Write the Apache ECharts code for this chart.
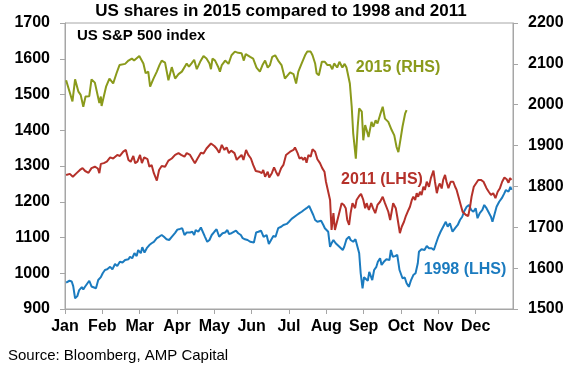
<!DOCTYPE html>
<html>
<head>
<meta charset="utf-8">
<script src="https://cdn.jsdelivr.net/npm/echarts@6/dist/echarts.min.js"></script>
<style>
  html, body { margin: 0; padding: 0; background: #fff; }
  #chart { width: 580px; height: 371px; }
</style>
</head>
<body>
<div id="chart"></div>
<script>
// x positions are months since 1 Jan (0 = Jan, 12 = end of Dec)
var months = ['Jan', 'Feb', 'Mar', 'Apr', 'May', 'Jun', 'Jul', 'Aug', 'Sep', 'Oct', 'Nov', 'Dec'];

// 2015 - right hand scale
var t2015 = [0.03, 0.20, 0.27, 0.36, 0.42, 0.49, 0.55, 0.65, 0.71, 0.80, 0.92, 0.96, 0.98, 1.10, 1.19, 1.29, 1.38, 1.46, 1.61, 1.70,
  1.79, 1.85, 1.99, 2.10, 2.16, 2.23, 2.28, 2.37, 2.46, 2.53, 2.59, 2.68, 2.77, 2.86, 2.95, 3.04, 3.13, 3.26, 3.32, 3.39,
  3.46, 3.53, 3.62, 3.71, 3.79, 3.87, 3.91, 3.95, 4.02, 4.11, 4.15, 4.20, 4.29, 4.38, 4.46, 4.55, 4.64, 4.73, 4.79, 4.84,
  4.96, 5.04, 5.13, 5.22, 5.29, 5.36, 5.43, 5.49, 5.55, 5.63, 5.71, 5.80, 5.89, 5.94, 6.03, 6.12, 6.19, 6.25, 6.34, 6.43,
  6.49, 6.58, 6.63, 6.70, 6.74, 6.80, 6.88, 6.96, 7.03, 7.10, 7.16, 7.21, 7.29, 7.35, 7.43, 7.49, 7.54, 7.59, 7.63, 7.68,
  7.72, 7.79, 7.84, 7.88, 7.95, 7.99, 8.04, 8.08, 8.13, 8.17, 8.21, 8.26, 8.32, 8.37, 8.44, 8.51, 8.57, 8.66, 8.75, 8.82,
  8.88, 8.93, 8.99, 9.04, 9.11, 9.15];
var v2015 = [2060, 2008, 2062, 2032, 2024, 1995, 2020, 2021, 2062, 2054, 2004, 2020, 1997, 2044, 2064, 2052, 2077, 2097, 2100, 2108,
  2113, 2108, 2119, 2101, 2077, 2081, 2044, 2064, 2081, 2097, 2108, 2103, 2060, 2092, 2064, 2075, 2081, 2101, 2093, 2101,
  2110, 2087, 2105, 2119, 2113, 2101, 2087, 2113, 2108, 2091, 2081, 2097, 2108, 2100, 2121, 2130, 2127, 2126, 2108, 2124,
  2117, 2113, 2091, 2081, 2097, 2108, 2091, 2097, 2117, 2121, 2108, 2097, 2064, 2060, 2079, 2075, 2052, 2081, 2101, 2121,
  2130, 2130, 2121, 2101, 2077, 2072, 2105, 2105, 2097, 2097, 2087, 2101, 2091, 2105, 2091, 2100, 2091, 2093, 2052, 1995,
  1930, 1868, 1946, 1991, 1983, 1913, 1950, 1938, 1921, 1917, 1958, 1946, 1962, 1954, 1975, 1995, 1966, 1958, 1938, 1925,
  1897, 1884, 1917, 1946, 1978, 1987];

// 2011 - left hand scale
var t2011 = [0.03, 0.13, 0.21, 0.31, 0.40, 0.47, 0.54, 0.63, 0.71, 0.80, 0.88, 0.92, 0.96, 1.04, 1.12, 1.21, 1.29, 1.40, 1.47, 1.56,
  1.63, 1.70, 1.76, 1.83, 1.88, 1.94, 2.01, 2.06, 2.12, 2.21, 2.26, 2.32, 2.38, 2.46, 2.52, 2.59, 2.68, 2.77, 2.86, 2.95,
  3.04, 3.11, 3.20, 3.26, 3.35, 3.44, 3.48, 3.55, 3.64, 3.71, 3.79, 3.91, 4.00, 4.06, 4.13, 4.20, 4.27, 4.33, 4.39, 4.45,
  4.54, 4.60, 4.66, 4.73, 4.78, 4.85, 4.91, 4.98, 5.04, 5.11, 5.20, 5.27, 5.31, 5.36, 5.43, 5.47, 5.54, 5.60, 5.65, 5.71,
  5.79, 5.85, 5.92, 6.03, 6.12, 6.16, 6.23, 6.28, 6.34, 6.38, 6.43, 6.47, 6.52, 6.58, 6.63, 6.70, 6.76, 6.83, 6.89, 6.95,
  6.99, 7.04, 7.10, 7.14, 7.19, 7.23, 7.28, 7.32, 7.36, 7.41, 7.47, 7.52, 7.56, 7.61, 7.65, 7.70, 7.77, 7.81, 7.88, 7.93,
  7.99, 8.04, 8.08, 8.14, 8.20, 8.25, 8.31, 8.37, 8.44, 8.51, 8.57, 8.66, 8.71, 8.75, 8.79, 8.86, 8.90, 8.97, 9.02, 9.08,
  9.13, 9.20, 9.24, 9.29, 9.33, 9.38, 9.42, 9.46, 9.51, 9.55, 9.60, 9.64, 9.69, 9.75, 9.80, 9.87, 9.91, 9.96, 10.00, 10.04,
  10.09, 10.13, 10.18, 10.22, 10.27, 10.33, 10.40, 10.45, 10.49, 10.54, 10.60, 10.65, 10.70, 10.74, 10.80, 10.85, 10.89, 10.95, 11.00, 11.07,
  11.14, 11.21, 11.25, 11.29, 11.35, 11.41, 11.47, 11.53, 11.59, 11.65, 11.71, 11.77, 11.83, 11.88, 11.92, 11.96];
var v2011 = [1275, 1278, 1270, 1280, 1289, 1294, 1286, 1281, 1294, 1298, 1293, 1280, 1306, 1308, 1312, 1324, 1321, 1331, 1328, 1340,
  1345, 1317, 1312, 1328, 1308, 1312, 1331, 1308, 1324, 1319, 1298, 1303, 1280, 1259, 1289, 1300, 1298, 1315, 1321, 1331,
  1336, 1331, 1326, 1336, 1331, 1315, 1308, 1321, 1337, 1335, 1349, 1363, 1356, 1349, 1337, 1359, 1345, 1352, 1336, 1343,
  1336, 1317, 1324, 1331, 1317, 1345, 1331, 1321, 1303, 1286, 1284, 1280, 1289, 1270, 1284, 1268, 1280, 1296, 1284, 1272,
  1294, 1303, 1331, 1340, 1345, 1352, 1336, 1321, 1324, 1317, 1324, 1309, 1331, 1326, 1347, 1340, 1319, 1308, 1294, 1284,
  1256, 1252, 1205, 1121, 1168, 1121, 1121, 1158, 1158, 1196, 1191, 1182, 1149, 1135, 1168, 1196, 1182, 1205, 1216, 1222,
  1205, 1182, 1196, 1177, 1196, 1182, 1168, 1191, 1200, 1214, 1196, 1172, 1149, 1172, 1196, 1182, 1158, 1112, 1130, 1144,
  1160, 1177, 1186, 1205, 1214, 1205, 1224, 1214, 1228, 1219, 1242, 1233, 1256, 1242, 1266, 1287, 1256, 1224, 1242, 1251,
  1237, 1261, 1275, 1256, 1238, 1256, 1256, 1242, 1233, 1214, 1191, 1172, 1168, 1163, 1160, 1186, 1214, 1242, 1247, 1261,
  1261, 1256, 1261, 1238, 1228, 1219, 1224, 1210, 1228, 1238, 1256, 1268, 1263, 1253, 1266, 1261];

// 1998 - left hand scale
var t1998 = [0.03, 0.12, 0.18, 0.22, 0.27, 0.33, 0.38, 0.45, 0.49, 0.54, 0.58, 0.65, 0.71, 0.76, 0.83, 0.89, 0.96, 1.01, 1.07, 1.13,
  1.21, 1.27, 1.34, 1.40, 1.47, 1.54, 1.61, 1.70, 1.74, 1.80, 1.86, 1.92, 1.96, 2.03, 2.07, 2.13, 2.19, 2.26, 2.32, 2.38,
  2.46, 2.52, 2.59, 2.65, 2.72, 2.79, 2.86, 2.95, 3.01, 3.08, 3.14, 3.20, 3.26, 3.35, 3.41, 3.46, 3.50, 3.57, 3.64, 3.68,
  3.75, 3.81, 3.87, 3.93, 4.00, 4.06, 4.13, 4.17, 4.22, 4.29, 4.35, 4.39, 4.46, 4.51, 4.58, 4.64, 4.71, 4.76, 4.82, 4.89,
  4.96, 5.00, 5.06, 5.12, 5.18, 5.25, 5.32, 5.36, 5.40, 5.46, 5.52, 5.58, 5.64, 5.71, 5.79, 5.85, 5.94, 6.00, 6.07, 6.12,
  6.21, 6.28, 6.34, 6.40, 6.47, 6.54, 6.59, 6.65, 6.70, 6.76, 6.81, 6.86, 6.92, 6.96, 7.01, 7.05, 7.10, 7.14, 7.19, 7.25,
  7.30, 7.35, 7.39, 7.44, 7.48, 7.54, 7.61, 7.65, 7.72, 7.78, 7.83, 7.88, 7.92, 7.97, 8.01, 8.05, 8.11, 8.15, 8.19, 8.23,
  8.28, 8.34, 8.38, 8.44, 8.48, 8.54, 8.61, 8.69, 8.73, 8.78, 8.84, 8.90, 8.96, 9.04, 9.10, 9.15, 9.21, 9.27, 9.33, 9.39,
  9.45, 9.48, 9.55, 9.63, 9.69, 9.75, 9.82, 9.88, 9.94, 10.00, 10.06, 10.13, 10.20, 10.25, 10.31, 10.38, 10.45, 10.52, 10.58, 10.64,
  10.70, 10.76, 10.82, 10.88, 10.94, 11.00, 11.05, 11.11, 11.18, 11.23, 11.29, 11.34, 11.41, 11.45, 11.50, 11.56, 11.63, 11.70, 11.76, 11.81,
  11.88, 11.93, 11.96];
var v1998 = [974, 979, 977, 964, 930, 936, 953, 961, 955, 963, 958, 979, 963, 958, 958, 981, 989, 1000, 1009, 1011,
  1018, 1011, 1026, 1020, 1032, 1030, 1037, 1039, 1046, 1042, 1056, 1048, 1065, 1056, 1073, 1058, 1070, 1079, 1084, 1088,
  1098, 1102, 1107, 1102, 1095, 1093, 1102, 1113, 1122, 1124, 1126, 1107, 1114, 1114, 1116, 1107, 1121, 1116, 1128, 1130,
  1102, 1088, 1093, 1107, 1116, 1123, 1102, 1098, 1112, 1114, 1121, 1110, 1112, 1107, 1119, 1112, 1107, 1098, 1095, 1093,
  1088, 1093, 1086, 1114, 1116, 1119, 1102, 1098, 1107, 1082, 1093, 1104, 1102, 1126, 1130, 1135, 1138, 1144, 1152, 1156,
  1163, 1168, 1172, 1177, 1182, 1188, 1184, 1163, 1149, 1144, 1140, 1147, 1135, 1126, 1130, 1116, 1074, 1084, 1093, 1084,
  1088, 1074, 1079, 1065, 1074, 1095, 1102, 1093, 1088, 1095, 1093, 1056, 1000, 958, 989, 986, 979, 1004, 1000, 981,
  1009, 1018, 1032, 1042, 1023, 1032, 1039, 1037, 1065, 1046, 1048, 1051, 1009, 986, 988, 972, 962, 981, 995, 1000,
  1028, 1060, 1067, 1065, 1076, 1070, 1070, 1065, 1084, 1102, 1116, 1130, 1144, 1130, 1140, 1116, 1126, 1135, 1149, 1158,
  1175, 1186, 1191, 1177, 1172, 1182, 1154, 1168, 1177, 1191, 1182, 1177, 1158, 1144, 1163, 1186, 1200, 1210, 1222, 1233,
  1228, 1242, 1233];

var GREEN = '#8a9a1b';
var RED = '#b5312a';
var BLUE = '#1b7bbf';
var AXIS = '#a6a6a6';
var FONT = '"Liberation Sans", Arial, sans-serif';

function pairs(t, v) {
  return t.map(function (x, i) { return [x, v[i]]; });
}

var chart = echarts.init(document.getElementById('chart'), null, { renderer: 'canvas' });

var labelStyle = { color: '#000', fontSize: 16, fontWeight: 'bold', fontFamily: FONT };

var option = {
  backgroundColor: '#ffffff',
  animation: false,
  grid: { left: 65, right: 67, top: 23, bottom: 62, show: true, borderColor: AXIS, borderWidth: 1 },
  xAxis: {
    type: 'value',
    min: 0,
    max: 12,
    interval: 1,
    axisLine: { lineStyle: { color: AXIS } },
    axisTick: { length: 5, lineStyle: { color: AXIS } },
    splitLine: { show: false },
    axisLabel: Object.assign({
      margin: 10,
      showMaxLabel: false,
      formatter: function (v) { return months[v] || ''; }
    }, labelStyle)
  },
  yAxis: [{
    type: 'value',
    min: 900,
    max: 1700,
    interval: 100,
    axisLine: { show: true, lineStyle: { color: AXIS } },
    axisTick: { show: true, length: 5, lineStyle: { color: AXIS } },
    splitLine: { show: false },
    axisLabel: Object.assign({ margin: 15, formatter: function (v) { return String(v); } }, labelStyle)
  }, {
    type: 'value',
    min: 1500,
    max: 2200,
    interval: 100,
    position: 'right',
    axisLine: { show: true, lineStyle: { color: AXIS } },
    axisTick: { show: true, length: 5, lineStyle: { color: AXIS } },
    splitLine: { show: false },
    axisLabel: Object.assign({ margin: 15, formatter: function (v) { return String(v); } }, labelStyle)
  }],
  series: [{
    name: '1998 (LHS)',
    type: 'line',
    data: pairs(t1998, v1998),
    showSymbol: false,
    lineStyle: { color: BLUE, width: 2 },
    itemStyle: { color: BLUE }
  }, {
    name: '2011 (LHS)',
    type: 'line',
    data: pairs(t2011, v2011),
    showSymbol: false,
    lineStyle: { color: RED, width: 2 },
    itemStyle: { color: RED }
  }, {
    name: '2015 (RHS)',
    type: 'line',
    yAxisIndex: 1,
    data: pairs(t2015, v2015),
    showSymbol: false,
    lineStyle: { color: GREEN, width: 2 },
    itemStyle: { color: GREEN }
  }],
  graphic: [
    { type: 'text', x: 281, y: 11, style: { text: 'US shares in 2015 compared to 1998 and 2011', fill: '#000', font: 'bold 17px ' + FONT, textAlign: 'center', textVerticalAlign: 'middle' } },
    { type: 'text', x: 77, y: 36, style: { text: 'US S&P 500 index', fill: '#000', font: 'bold 15px ' + FONT, textAlign: 'left', textVerticalAlign: 'middle' } },
    { type: 'text', x: 398, y: 68, style: { text: '2015 (RHS)', fill: GREEN, font: 'bold 16px ' + FONT, textAlign: 'center', textVerticalAlign: 'middle' } },
    { type: 'text', x: 382, y: 180, style: { text: '2011 (LHS)', fill: RED, font: 'bold 16px ' + FONT, textAlign: 'center', textVerticalAlign: 'middle' } },
    { type: 'text', x: 465, y: 270, style: { text: '1998 (LHS)', fill: BLUE, font: 'bold 16px ' + FONT, textAlign: 'center', textVerticalAlign: 'middle' } },
    { type: 'text', x: 8, y: 356, style: { text: 'Source: Bloomberg, AMP Capital', fill: '#000', font: '15px ' + FONT, textAlign: 'left', textVerticalAlign: 'middle' } }
  ]
};

chart.setOption(option);
</script>
</body>
</html>
